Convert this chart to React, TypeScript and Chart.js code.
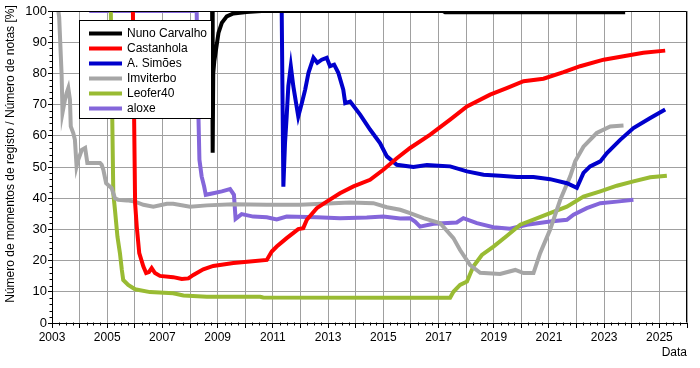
import React, { useEffect, useRef } from 'react';
import { Chart, registerables } from 'chart.js';

Chart.register(...registerables);

// ---- Data (decimal years / percentage) ----
const seriesNames = ['Nuno Carvalho', 'Castanhola', 'A. Simões', 'Imviterbo', 'Leofer40', 'aloxe'];

const nunoYears = [2008.80, 2008.82, 2008.84, 2008.88, 2008.94, 2009.03, 2009.15, 2009.33, 2009.57, 2010.05, 2010.60, 2017.17, 2017.24, 2023.76];
const nunoValues = [100, 54.6, 80, 84, 87.6, 93.0, 96.2, 98.3, 99.2, 99.7, 100, 100, 99.6, 99.6];

const castanholaYears = [2005.93, 2006.01, 2006.07, 2006.16, 2006.31, 2006.41, 2006.51, 2006.61, 2006.73, 2006.91, 2007.39, 2007.70, 2007.94, 2008.12, 2008.48, 2008.84, 2009.57, 2010.17, 2010.78, 2010.96, 2011.14, 2011.50, 2011.92, 2012.10, 2012.23, 2012.59, 2012.95, 2013.43, 2013.92, 2014.52, 2015.00, 2015.49, 2015.97, 2016.70, 2017.42, 2018.03, 2018.87, 2019.47, 2020.08, 2020.80, 2021.53, 2022.13, 2022.98, 2023.70, 2024.42, 2025.21];
const castanholaValues = [100, 38.4, 30.9, 22.4, 18.1, 16.0, 16.3, 17.6, 16.0, 15.1, 14.7, 14.1, 14.3, 15.4, 17.2, 18.3, 19.2, 19.7, 20.2, 22.9, 24.5, 27.2, 30.1, 30.4, 33.1, 36.8, 38.9, 41.6, 43.8, 45.9, 49.1, 52.8, 56.1, 60.4, 65.2, 69.4, 73.2, 75.3, 77.5, 78.3, 80.4, 82.3, 84.4, 85.5, 86.6, 87.3];

const simoesYears = [2011.32, 2011.38, 2011.44, 2011.50, 2011.56, 2011.65, 2011.74, 2011.92, 2012.05, 2012.17, 2012.29, 2012.47, 2012.61, 2012.77, 2012.95, 2013.07, 2013.22, 2013.37, 2013.55, 2013.62, 2013.80, 2014.16, 2014.52, 2014.88, 2015.13, 2015.49, 2016.09, 2016.58, 2017.42, 2018.03, 2018.63, 2019.23, 2019.84, 2020.44, 2021.04, 2021.65, 2022.01, 2022.25, 2022.49, 2022.86, 2023.10, 2023.58, 2024.06, 2024.67, 2025.21];
const simoesValues = [100, 43.7, 57.7, 66.2, 75.9, 82.3, 75.9, 66.2, 70.5, 74.8, 80.2, 85.0, 83.4, 84.4, 85.0, 82.3, 82.8, 80.2, 74.8, 70.5, 71.0, 66.8, 62.0, 57.7, 53.4, 50.7, 50.0, 50.6, 50.2, 48.6, 47.5, 47.2, 46.8, 46.8, 46.1, 44.8, 43.3, 48.1, 50.2, 51.8, 54.5, 58.7, 62.5, 65.7, 68.4];

const imviterboYears = [2003.23, 2003.26, 2003.35, 2003.38, 2003.47, 2003.53, 2003.59, 2003.65, 2003.68, 2003.77, 2003.83, 2003.89, 2003.95, 2004.08, 2004.20, 2004.28, 2004.44, 2004.74, 2004.80, 2004.86, 2004.96, 2005.16, 2005.28, 2005.40, 2005.71, 2006.01, 2006.31, 2006.67, 2007.16, 2007.39, 2008.00, 2008.61, 2009.57, 2010.78, 2011.99, 2013.19, 2013.80, 2014.64, 2015.13, 2015.61, 2015.97, 2016.45, 2017.06, 2017.54, 2017.78, 2018.14, 2018.51, 2019.23, 2019.78, 2020.08, 2020.44, 2020.68, 2021.04, 2021.41, 2021.77, 2021.95, 2022.25, 2022.73, 2023.22, 2023.70];
const imviterboValues = [100, 98, 79.1, 67.4, 71.6, 73.7, 75.3, 71.6, 63.0, 60.9, 58.7, 50.2, 52.3, 55.5, 56.1, 51.3, 51.3, 51.3, 50.7, 49.1, 44.8, 43.2, 40.0, 39.5, 39.3, 38.9, 37.9, 37.3, 38.2, 38.2, 37.3, 37.7, 38.1, 37.9, 37.9, 38.4, 38.6, 38.4, 37.1, 36.3, 35.2, 33.6, 32.0, 27.2, 23.4, 18.6, 16.1, 15.7, 17.0, 16.0, 16.0, 22.4, 29.9, 39.5, 47.0, 51.8, 56.5, 60.9, 63.0, 63.3];

const leoferYears = [2005.13, 2005.19, 2005.22, 2005.28, 2005.37, 2005.46, 2005.53, 2005.58, 2005.76, 2006.01, 2006.55, 2007.39, 2007.76, 2008.61, 2010.54, 2010.65, 2015.61, 2017.42, 2017.54, 2017.78, 2018.03, 2018.26, 2018.57, 2018.99, 2019.47, 2019.96, 2020.44, 2021.04, 2021.65, 2022.25, 2022.86, 2023.46, 2024.06, 2024.67, 2025.27];
const leoferValues = [100, 61, 41.6, 36.3, 27.7, 22.4, 17.0, 13.8, 12.2, 10.8, 9.9, 9.5, 8.8, 8.4, 8.4, 8.2, 8.1, 8.1, 10.0, 12.2, 13.3, 18.1, 21.8, 24.5, 27.9, 31.5, 33.1, 35.2, 37.3, 40.5, 42.2, 44.0, 45.4, 46.7, 47.2];

const aloxeYears = [2004.35, 2008.24, 2008.27, 2008.34, 2008.42, 2008.51, 2008.57, 2008.84, 2009.15, 2009.45, 2009.59, 2009.65, 2009.87, 2010.29, 2010.78, 2011.14, 2011.50, 2012.59, 2013.43, 2014.40, 2015.00, 2015.61, 2015.97, 2016.15, 2016.33, 2016.82, 2017.66, 2017.90, 2018.39, 2018.99, 2019.59, 2020.20, 2021.04, 2021.65, 2021.89, 2022.37, 2022.86, 2023.46, 2024.06];
const aloxeValues = [100, 100, 80, 52.3, 47.0, 43.8, 41.1, 41.6, 42.2, 42.9, 41.1, 33.4, 34.9, 34.1, 33.9, 33.2, 34.1, 33.9, 33.6, 33.8, 34.1, 33.5, 33.6, 32.5, 30.9, 31.8, 32.2, 33.6, 32.0, 30.7, 30.2, 31.5, 32.5, 33.1, 34.7, 36.8, 38.4, 38.9, 39.5];

const xMin = 2003;
const xMax = 2026;
const yMin = 0;
const yMax = 100;
const yAxisTitle = 'Número de momentos de registo / Número de notas [%]';
const xAxisTitle = 'Data';

// ---- Styles ----
const seriesColors = ['#000000', '#ff0000', '#0000cc', '#a6a6a6', '#99bb33', '#8466da'];
const FONT = '"Liberation Sans", Arial, Helvetica, sans-serif';

const seriesYears = [nunoYears, castanholaYears, simoesYears, imviterboYears, leoferYears, aloxeYears];
const seriesValues = [nunoValues, castanholaValues, simoesValues, imviterboValues, leoferValues, aloxeValues];

const decorPlugin = {
  id: 'decor',
  afterDraw(chart: any) {
    const { ctx, chartArea, scales } = chart;
    const xs = scales.x;
    const ys = scales.y;
    ctx.save();
    // frame top/right
    ctx.strokeStyle = '#000';
    ctx.lineWidth = 1;
    ctx.beginPath();
    const L = Math.round(chartArea.left) + 0.5;
    const R = Math.round(chartArea.right) - 0.5;
    const T = Math.round(chartArea.top) + 0.5;
    const B = Math.round(chartArea.bottom) - 0.5;
    ctx.moveTo(L, T);
    ctx.lineTo(R, T);
    ctx.lineTo(R, B);
    ctx.stroke();
    // minor ticks x (quarters)
    ctx.beginPath();
    for (let q = 1; q < (xMax - xMin) * 4; q++) {
      if (q % 4 === 0) continue;
      const px = Math.round(xs.getPixelForValue(xMin + q / 4)) + 0.5;
      ctx.moveTo(px, B);
      ctx.lineTo(px, B + 3);
    }
    // minor ticks y (every 2)
    for (let v = yMin + 2; v < yMax; v += 2) {
      if (v % 10 === 0) continue;
      const py = Math.round(ys.getPixelForValue(v)) + 0.5;
      ctx.moveTo(L, py);
      ctx.lineTo(L - 3, py);
    }
    ctx.stroke();

    // legend
    const bx = 79.5, by = 20.5, bw = 132, bh = 98;
    ctx.fillStyle = '#fff';
    ctx.fillRect(bx, by, bw, bh);
    ctx.strokeStyle = '#000';
    ctx.lineWidth = 1;
    ctx.strokeRect(bx, by, bw, bh);
    ctx.font = '12px ' + FONT;
    ctx.textAlign = 'left';
    ctx.textBaseline = 'middle';
    chart.data.datasets.forEach((ds: any, i: number) => {
      const yy = 33.5 + i * 15;
      ctx.strokeStyle = ds.borderColor;
      ctx.lineWidth = 4;
      ctx.beginPath();
      ctx.moveTo(89, yy);
      ctx.lineTo(122, yy);
      ctx.stroke();
      ctx.fillStyle = '#000';
      ctx.fillText(ds.label, 127, yy + 0.5);
    });

    // axis titles
    ctx.fillStyle = '#000';
    ctx.font = '12px ' + FONT;
    ctx.save();
    ctx.translate(11, 154);
    ctx.rotate(-Math.PI / 2);
    ctx.textAlign = 'center';
    ctx.textBaseline = 'middle';
    ctx.fillText(yAxisTitle, 0, 0);
    ctx.restore();
    ctx.textAlign = 'right';
    ctx.textBaseline = 'middle';
    ctx.fillText(xAxisTitle, 687, 353);
    ctx.restore();
  },
};

export default function App() {
  const ref = useRef<HTMLCanvasElement>(null);
  useEffect(() => {
    if (!ref.current) return;
    const datasets = seriesNames.map((name, i) => ({
      label: name,
      data: seriesYears[i].map((x, j) => ({ x, y: seriesValues[i][j] })),
      borderColor: seriesColors[i],
      backgroundColor: seriesColors[i],
      borderWidth: 4,
      pointRadius: 0,
      tension: 0,
      fill: false,
    }));
    const chart = new Chart(ref.current, {
      type: 'line',
      data: { datasets },
      options: {
        animation: false,
        responsive: false,
        maintainAspectRatio: false,
        parsing: true,
        layout: { padding: { left: 0, right: 13, top: 11, bottom: 0 } },
        plugins: {
          legend: { display: false },
          tooltip: { enabled: false },
        },
        scales: {
          x: {
            type: 'linear',
            min: xMin,
            max: xMax,
            afterFit: (s: any) => { s.height = 45; },
            grid: { color: '#a0a0a0', lineWidth: 1, drawTicks: true, tickLength: 5, tickColor: '#000' },
            border: { color: '#000', width: 1 },
            ticks: {
              stepSize: 1,
              autoSkip: false,
              maxRotation: 0,
              padding: 2,
              color: '#000',
              font: { family: FONT, size: 12 },
              callback: (v: any) => {
                const n = Math.round(Number(v));
                return (n - xMin) % 2 === 0 && n < xMax ? String(n) : '';
              },
            },
          },
          y: {
            type: 'linear',
            min: yMin,
            max: yMax,
            afterFit: (s: any) => { s.width = 52; },
            grid: { color: '#a0a0a0', lineWidth: 1, drawTicks: true, tickLength: 4, tickColor: '#000' },
            border: { color: '#000', width: 1 },
            ticks: {
              stepSize: 10,
              padding: 1,
              color: '#000',
              font: { family: FONT, size: 13 },
            },
          },
        },
      },
      plugins: [decorPlugin],
    });
    return () => chart.destroy();
  }, []);
  return (
    <div style={{ position: 'absolute', left: 0, top: 0, width: 700, height: 368, background: '#fff' }}>
      <canvas ref={ref} width={700} height={368} style={{ display: 'block' }} />
    </div>
  );
}
